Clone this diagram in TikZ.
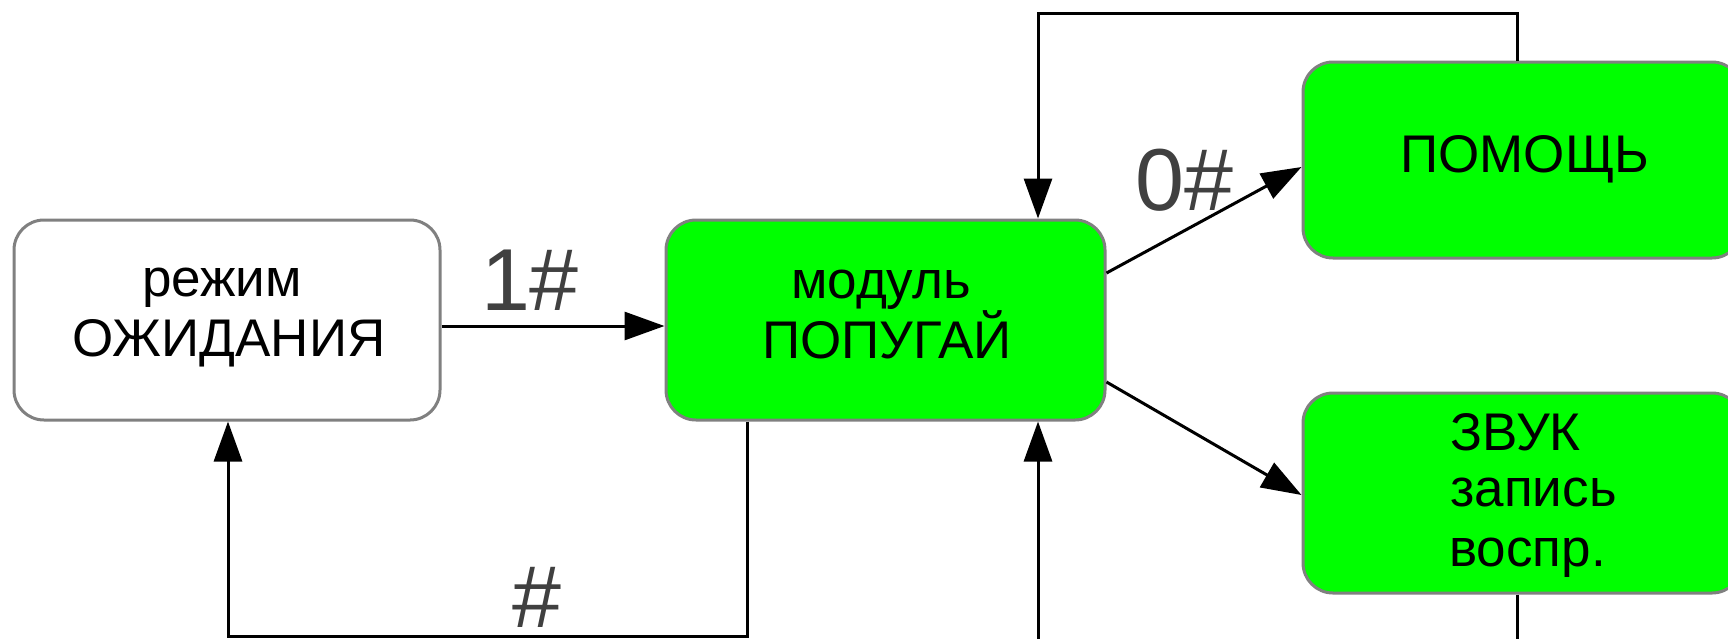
\documentclass[tikz,border=0pt]{standalone}
\usepackage{fontspec}
\setmainfont{Liberation Sans}
\usetikzlibrary{arrows.meta}
\definecolor{boxgray}{HTML}{808080}
\definecolor{boxgreen}{HTML}{00FF00}
\definecolor{labgray}{HTML}{404040}
\begin{document}
\begin{tikzpicture}[x=0.5pt,y=-0.5pt,
  statebox/.style={draw=boxgray, line width=1.5pt, rounded corners=15pt, inner sep=0pt, minimum height=100pt},
  greenbox/.style={statebox, fill=boxgreen},
  boxtext/.style={inner sep=0pt, anchor=base, font=\fontsize{26.5pt}{30pt}\selectfont},
  boxtextl/.style={boxtext, anchor=base west},
  lab/.style={inner sep=0pt, anchor=base, text=labgray, font=\fontsize{44pt}{50pt}\selectfont},
  arr/.style={draw=black, line width=1.5pt, -{Triangle[length=20pt,width=14pt]}},
  plain/.style={draw=black, line width=1.5pt}
]
\clip (0,0) rectangle (1728,638);
\fill[white] (0,0) rectangle (1728,638);

% boxes
\node[statebox, minimum width=213pt] (wait) at (227,320) {};
\node[greenbox, minimum width=219.5pt] (parrot) at (885.5,320) {};
\node[greenbox, minimum width=219.5pt, minimum height=98pt] (help) at (1522.5,160) {};
\node[greenbox, minimum width=219.5pt] (sound) at (1522.5,493) {};

% box texts
\node[boxtext] (t1) at (222,296) {режим};
\node[boxtext] (t2) at (229,356) {ОЖИДАНИЯ};
\node[boxtext] (t3) at (881,298) {модуль};
\node[boxtext] (t4) at (887,358) {ПОПУГАЙ};
\node[boxtext] (t5) at (1525,172) {ПОМОЩЬ};
\node[boxtextl] (t6) at (1450,450) {ЗВУК};
\node[boxtextl] (t7) at (1450,506) {запись};
\node[boxtextl] (t8) at (1449,566) {воспр.};

% helper coordinates
\coordinate (xr) at (1517,0);
\coordinate (xm) at (1038,0);
\coordinate (xa) at (747,0);
\coordinate (xb) at (228,0);
\coordinate (ytop) at (0,13);
\coordinate (ybot) at (0,636.5);
\coordinate (yout) at (0,700);

% connectors
\draw[arr] ([yshift=-3pt]wait.east) -- ([yshift=-3pt]parrot.west);
\draw[arr] ([yshift=23.5pt]parrot.east) -- ([yshift=-3.5pt]help.west);
\draw[arr] ([yshift=-31pt]parrot.east) -- ([yshift=-1pt]sound.west);
\draw[arr] (help.north -| xr) -- (xr |- ytop) -| (parrot.north -| xm);
\draw[arr] (sound.south -| xr) -- (xr |- yout) -| (parrot.south -| xm);
\draw[arr] (parrot.south -| xa) -- (xa |- ybot) -| (wait.south -| xb);

% labels
\node[lab] (l1) at (530,310) {1\#};
\node[lab] (l2) at (1184,210) {0\#};
\node[lab] (l3) at (537,627) {\#};
\end{tikzpicture}
\end{document}
